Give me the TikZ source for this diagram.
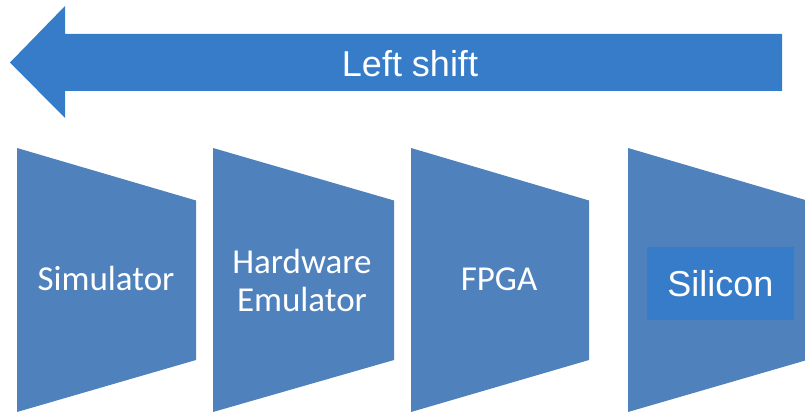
\documentclass[tikz,border=0pt]{standalone}
\usepackage{fontspec}
\setmainfont{Liberation Sans}
\newfontfamily\calfont{Carlito}
\definecolor{trapblue}{HTML}{4F81BD}
\definecolor{arrowblue}{HTML}{367CC8}
\begin{document}
\begin{tikzpicture}[x=1pt,y=-1pt,
  trap/.style={fill=trapblue,draw=none},
  traplabel/.style={text=white,font=\calfont\fontsize{35}{38}\selectfont,align=center,inner sep=0pt},
  arrowlabel/.style={text=white,font=\fontsize{36}{40}\selectfont,inner sep=0pt}]
\useasboundingbox (0,0) rectangle (805,414);
\begin{scope}
\clip (0,0) rectangle (805,414);
% big left arrow
\fill[arrowblue] (10,62.5) -- (65,6) -- (65,34) -- (782,34) -- (782,91) -- (65,91) -- (65,118) -- cycle;
\node[arrowlabel] (ls) at (410,64) {Left shift};
% trapezoids
\foreach \x/\w in {17/179,213/181,411/178,628/179}{
  \fill[trap] (\x,148) -- (\x+\w,200.5) -- (\x+\w,360) -- (\x,412) -- cycle;
}
\node[traplabel] (sim) at (106,278) {Simulator};
\node[traplabel] (hw) at (302,280) {Hardware\\Emulator};
\node[traplabel] (fpga) at (499,279) {FPGA};
\fill[arrowblue] (647,247) rectangle (794,320);
\node[arrowlabel] (si) at (720.5,284) {Silicon};
\end{scope}
\end{tikzpicture}
\end{document}
